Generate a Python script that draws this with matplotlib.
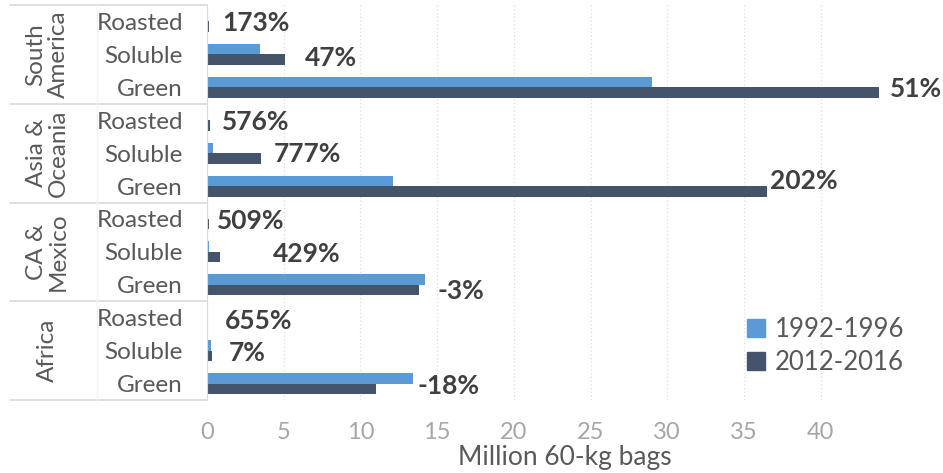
import matplotlib.pyplot as plt
import matplotlib.transforms as mtransforms
from matplotlib.patches import Patch

plt.rcParams['font.family'] = ['Lato', 'DejaVu Sans']

# coffee exports by region and product, million 60-kg bags
regions = ["South\nAmerica", "Asia &\nOceania", "CA &\nMexico", "Africa"]
products = ["Roasted", "Soluble", "Green"]
early = [0.06, 3.45, 29.0,
         0.03, 0.40, 12.1,
         0.025, 0.16, 14.2,
         0.005, 0.28, 13.4]
late = [0.16, 5.07, 43.8,
        0.20, 3.50, 36.5,
        0.15, 0.85, 13.8,
        0.04, 0.30, 11.0]
growth = ["173%", "47%", "51%",
          "576%", "777%", "202%",
          "509%", "429%", "-3%",
          "655%", "7%", "-18%"]
# label nudges in pixels (dx, dy)
nudge = [(13, 0), (20, -2), (11, 0),
         (12, 0), (13, 1), (3, 7),
         (8, 0), (53, 0), (19, -4),
         (17, -1), (17, 0), (42, 0)]

c_early = "#5B9BD5"
c_late = "#44546A"

fig = plt.figure(figsize=(9.43, 4.73), dpi=100)
ax = fig.add_axes([207/943, 73/473, 675/943, 395/473])

rows = list(range(len(early)))
ypos = [-r for r in rows]
h = 0.32
ax.barh([y + h/2 for y in ypos], early, height=h, color=c_early)
ax.barh([y - h/2 for y in ypos], late, height=h, color=c_late)

for y, v, txt, (dx, dy) in zip(ypos, late, growth, nudge):
    ax.annotate(txt, xy=(v, y), xytext=(dx, dy), textcoords="offset pixels",
                ha="left", va="center_baseline", fontsize=19, fontweight="bold",
                color="#404040", annotation_clip=False)

ax.set_xlim(0, 44)
ax.set_ylim(-11.5, 0.5)
ax.set_xticks(range(0, 41, 5))
ax.tick_params(axis="x", length=0, pad=16, labelsize=17, labelcolor="#A6A6A6")
ax.set_yticks([])
ax.grid(axis="x", color="#DDDDDD", linestyle=(0, (1, 2)), linewidth=0.9)
ax.set_axisbelow(True)
for s in ["top", "right", "bottom"]:
    ax.spines[s].set_visible(False)
ax.spines["left"].set_color("#D9D9D9")

# two-level category axis
trans = mtransforms.blended_transform_factory(ax.transAxes, ax.transData)
x_outer = (10 - 207) / 675
x_mid = (97 - 207) / 675
for b in [0.5, -2.5, -5.5, -8.5, -11.5]:
    ax.plot([x_outer, 0], [b, b], transform=trans, color="#D9D9D9",
            linewidth=1.2, clip_on=False)
ax.plot([x_mid, x_mid], [0.5, -11.5], transform=trans, color="#F3F3F3",
        linewidth=1, clip_on=False)

for y, r in zip(ypos, rows):
    ax.text(-24/675, y, products[r % 3], transform=trans, ha="right",
            va="center_baseline", fontsize=17.5, color="#595959")
for g, name in enumerate(regions):
    ax.text(-160/675, -3*g - 1, name, transform=trans, ha="center",
            va="center", rotation=90, fontsize=17.5, color="#595959",
            linespacing=1.05, multialignment="center")

ax.text(23.3, -13.26, "Million 60-kg bags", ha="center", va="center",
        fontsize=19, color="#595959")

handles = [Patch(color=c_early, label="1992-1996"),
           Patch(color=c_late, label="2012-2016")]
ax.legend(handles=handles, loc="upper left", bbox_to_anchor=(0.773, 0.255),
          frameon=False, fontsize=18.5, labelcolor="#595959",
          handlelength=0.7, handleheight=0.7, handletextpad=0.4,
          labelspacing=0.3, borderpad=0.2)

fig.savefig("out.png", dpi=100)
